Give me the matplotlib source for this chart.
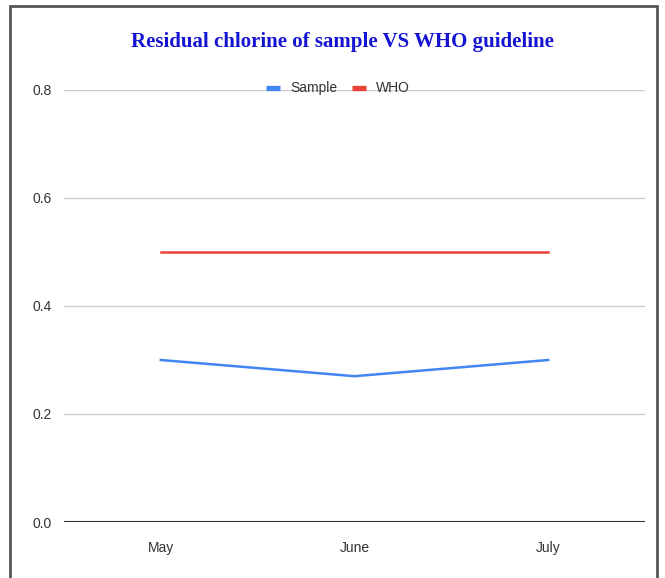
import matplotlib
matplotlib.use("Agg")
import matplotlib.pyplot as plt
from matplotlib.patches import Rectangle

months = ["May", "June", "July"]
sample = [0.30, 0.27, 0.30]
who = [0.50, 0.50, 0.50]
yticks = [0.0, 0.2, 0.4, 0.6, 0.8]

W, H = 665, 578
fig = plt.figure(figsize=(W / 100, H / 100), dpi=100)
fig.patch.set_facecolor("white")

sans = ["Liberation Sans", "DejaVu Sans"]

# outer frame
fig.patches.append(Rectangle((10 / W, -0.02), 647 / W, 1 - 6 / H + 0.02,
                             transform=fig.transFigure, fill=False,
                             edgecolor="#555555", linewidth=2))

ax = fig.add_axes([64 / W, 1 - 522 / H, (645 - 64) / W, (522 - 90) / H])
x = list(range(len(months)))
ax.plot(x, sample, color="#4285F4", linewidth=1.8, label="Sample", zorder=3)
ax.plot(x, who, color="#EA4335", linewidth=1.8, label="WHO", zorder=3)

ax.set_xlim(-0.5, len(months) - 0.5)
ax.set_ylim(0, 0.8)
ax.set_yticks(yticks)
ax.set_yticklabels([f"{v:.1f}" for v in yticks], family=sans, fontsize=10, color="#333333")
ax.set_xticks(x)
ax.set_xticklabels(months, family=sans, fontsize=10, color="#333333")
ax.tick_params(length=0)
ax.tick_params(axis="y", pad=9)
ax.tick_params(axis="x", pad=14)
ax.grid(axis="y", color="#cccccc", linewidth=1)
ax.axhline(0, color="#333333", linewidth=1.5, zorder=2)
for s in ax.spines.values():
    s.set_visible(False)

fig.text(342 / W, 1 - 42 / H, "Residual chlorine of sample VS WHO guideline",
         ha="center", va="center", family=["Liberation Serif", "DejaVu Serif"],
         fontweight="bold", fontsize=15, color="#1414d2")

leg = ax.legend(loc="center", bbox_to_anchor=((338 - 64) / 581, 1.0 + 2 / 432), ncol=2,
                frameon=False, prop={"family": sans, "size": 10}, handlelength=1.0,
                handleheight=0.5, columnspacing=1.1, handletextpad=0.7)
for t in leg.get_texts():
    t.set_color("#333333")
for h in leg.get_lines():
    h.set_linewidth(3.8)
    h.set_solid_capstyle("butt")

fig.savefig("out.png", dpi=100, facecolor="white")
